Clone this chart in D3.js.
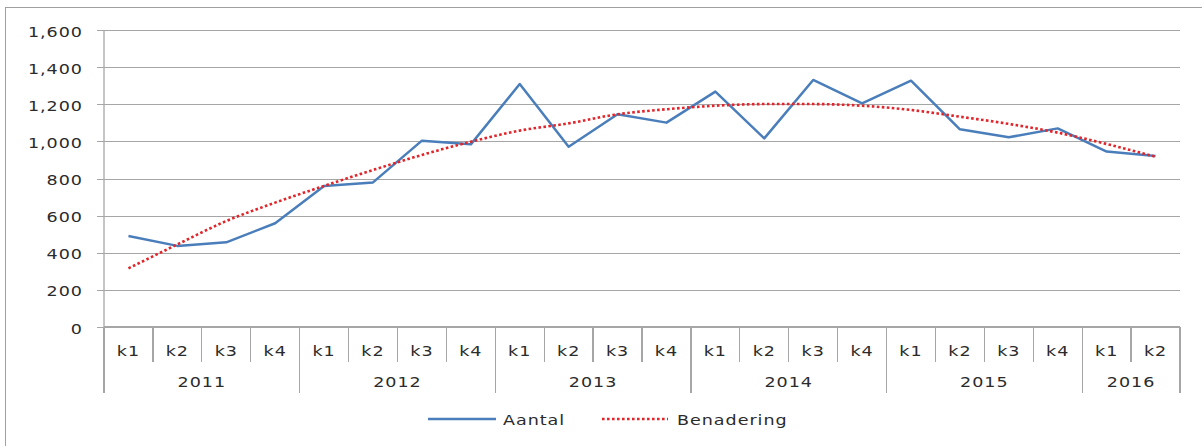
<!DOCTYPE html>
<html><head><meta charset="utf-8">
<script src="https://cdn.jsdelivr.net/npm/d3@7"></script>
<style>
html,body{margin:0;padding:0;background:#fff;}
svg{display:block;}
text{font-family:"DejaVu Sans",Verdana,sans-serif;fill:#2b2b2b;letter-spacing:0.75px;}
</style></head>
<body>
<svg id="chart" width="1202" height="446"></svg>
<script>
const years = ["2011","2012","2013","2014","2015","2016"];
const quartersPerYear = [4,4,4,4,4,2];
const quarters = ["k1","k2","k3","k4","k1","k2","k3","k4","k1","k2","k3","k4","k1","k2","k3","k4","k1","k2","k3","k4","k1","k2"];
const aantal = [490,437,456,559,760,779,1004,984,1309,971,1146,1101,1268,1016,1331,1205,1327,1065,1022,1070,945,921];
const benadering = [316,445,571,670,760,846,927,998,1058,1097,1146,1173,1192,1201,1201,1192,1169,1133,1094,1047,986,917];
const yTicks = [0,200,400,600,800,1000,1200,1400,1600];
const seriesNames = ["Aantal","Benadering"];

(function(){
const SX = 1.3;
const svg = d3.select("#chart");
const pL = 104, pR = 1180, pT = 30, pB = 327;
const grid = "#a6a6a6";

// outer frame
svg.append("rect").attr("x",5.5).attr("y",7.5).attr("width",1210).attr("height",460)
  .attr("fill","none").attr("stroke","#a0a0a0").attr("stroke-width",1);

const idx = quarters.map((d,i)=>i);
const x = d3.scaleBand().domain(idx).range([pL,pR]);
const y = d3.scaleLinear().domain([0,1600]).range([pB,pT]);

function label(g, px, py, txt, anchor){
  return g.append("text").attr("transform",`translate(${px},${py}) scale(${SX},1)`)
    .attr("text-anchor",anchor).style("font-size","13.5px").text(txt);
}

// y axis with gridlines
const yAxis = d3.axisLeft(y).tickValues(yTicks).tickFormat(d3.format(",")).tickSize(7).tickPadding(0);
const yg = svg.append("g").attr("transform",`translate(${pL},0)`).call(yAxis);
yg.select(".domain").remove();
yg.selectAll(".tick line").attr("stroke",grid).attr("stroke-width",1).attr("x2",-7).clone()
  .attr("x2",pR-pL);
yg.selectAll(".tick line").attr("shape-rendering","crispEdges");
yg.selectAll(".tick text").attr("x",null).attr("dy",null)
  .attr("transform",`translate(-21,6) scale(${SX},1)`)
  .style("font-size","13.5px").style("font-family","'DejaVu Sans',Verdana,sans-serif").attr("fill","#2b2b2b");

// y axis line
svg.append("line").attr("x1",pL).attr("x2",pL).attr("y1",pT).attr("y2",pB)
  .attr("stroke",grid).attr("stroke-width",1.3);

// category axis
const xa = svg.append("g").attr("shape-rendering","crispEdges");
xa.append("line").attr("x1",pL).attr("x2",pR).attr("y1",pB).attr("y2",pB)
  .attr("stroke",grid).attr("stroke-width",1.3);
let start = 0;
const bounds = [0];
quartersPerYear.forEach(n=>{ start += n; bounds.push(start); });
idx.forEach(i=>{
  if(i>0 && !bounds.includes(i)){
    xa.append("line").attr("x1",x(i)).attr("x2",x(i)).attr("y1",pB).attr("y2",362)
      .attr("stroke",grid).attr("stroke-width",1.3);
  }
});
bounds.forEach(b=>{
  const px = b < quarters.length ? x(b) : pR;
  xa.append("line").attr("x1",px).attr("x2",px).attr("y1",pB).attr("y2",393)
    .attr("stroke",grid).attr("stroke-width",1.3);
});
quarters.forEach((q,i)=>label(svg, x(i)+x.bandwidth()/2, 356, q, "middle"));
years.forEach((yr,j)=>{
  const a = bounds[j], b = bounds[j+1];
  const x0 = x(a), x1 = b < quarters.length ? x(b) : pR;
  label(svg, (x0+x1)/2, 387, yr, "middle");
});

// lines
const cx = (d,i)=>x(i)+x.bandwidth()/2;
svg.append("path").datum(aantal).attr("d",d3.line().x(cx).y(d=>y(d))).attr("fill","none")
  .attr("stroke","#4a7ebb").attr("stroke-width",2.5).attr("stroke-linejoin","round");
svg.append("path").datum(benadering).attr("d",d3.line().curve(d3.curveMonotoneX).x(cx).y(d=>y(d)))
  .attr("fill","none").attr("stroke","#e0262b").attr("stroke-width",2.6).attr("stroke-dasharray","2.6,2.4");

// legend
const lg = svg.append("g");
lg.append("line").attr("x1",428).attr("x2",496).attr("y1",419).attr("y2",419)
  .attr("stroke","#4a7ebb").attr("stroke-width",2.5);
label(lg, 503, 425, seriesNames[0], "start");
lg.append("line").attr("x1",602).attr("x2",668).attr("y1",419).attr("y2",419)
  .attr("stroke","#e0262b").attr("stroke-width",2.6).attr("stroke-dasharray","2.6,2.4");
label(lg, 677, 425, seriesNames[1], "start");
})();
</script>
</body></html>
